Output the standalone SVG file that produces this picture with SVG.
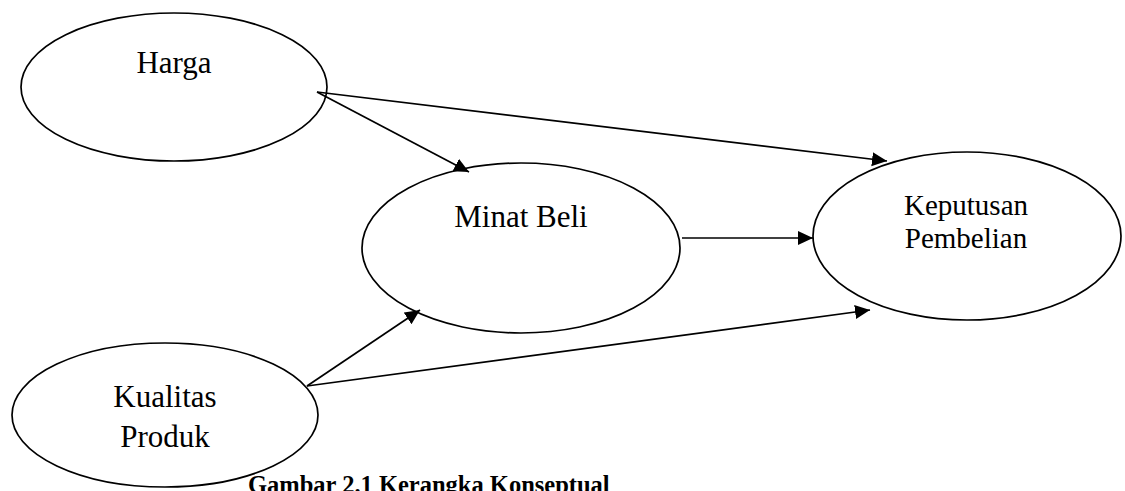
<svg xmlns="http://www.w3.org/2000/svg" width="1125" height="491" viewBox="0 0 1125 491">
  <style>
    .node ellipse { fill: #ffffff; stroke: #000000; stroke-width: 1.7; }
    .label { font-family: "Liberation Serif", "Times New Roman", serif; font-size: 31px; fill: #000000; text-anchor: middle; }
    .label.small { font-size: 29px; }
    .edge { stroke: #000000; stroke-width: 1.7; fill: none; marker-end: url(#arrow); }
    .caption { font-family: "Liberation Serif", "Times New Roman", serif; font-size: 24.5px; font-weight: bold; fill: #000000; }
  </style>
  <defs>
    <marker id="arrow" markerUnits="userSpaceOnUse" markerWidth="17" markerHeight="16" refX="15" refY="7" orient="auto">
      <path d="M0,0 L15,7 L0,14 Z" fill="#000000"/>
    </marker>
  </defs>
  <rect width="1125" height="491" fill="#ffffff"/>

  <g id="node-harga" class="node">
    <ellipse cx="174" cy="87" rx="153" ry="74"/>
    <text class="label" x="174" y="73">Harga</text>
  </g>

  <g id="node-minat-beli" class="node">
    <ellipse cx="521" cy="248" rx="159" ry="85"/>
    <text class="label" x="521" y="227">Minat Beli</text>
  </g>

  <g id="node-keputusan-pembelian" class="node">
    <ellipse cx="967" cy="236" rx="154" ry="84"/>
    <text class="label small" x="966" y="215">Keputusan</text>
    <text class="label small" x="966" y="248">Pembelian</text>
  </g>

  <g id="node-kualitas-produk" class="node">
    <ellipse cx="165" cy="415" rx="153" ry="72"/>
    <text class="label" x="165" y="407">Kualitas</text>
    <text class="label" x="165" y="447">Produk</text>
  </g>

  <g id="connectors">
    <line class="edge" x1="317" y1="92" x2="469" y2="172"/>
    <line class="edge" x1="317" y1="92" x2="887" y2="161"/>
    <line class="edge" x1="682" y1="238" x2="813" y2="238"/>
    <line class="edge" x1="307" y1="386" x2="420" y2="310"/>
    <line class="edge" x1="307" y1="386" x2="870" y2="310"/>
  </g>

  <!-- figure caption, sitting on the lower edge of the canvas -->
  <text class="caption" x="248" y="493">Gambar 2.1 Kerangka Konseptual</text>
</svg>
